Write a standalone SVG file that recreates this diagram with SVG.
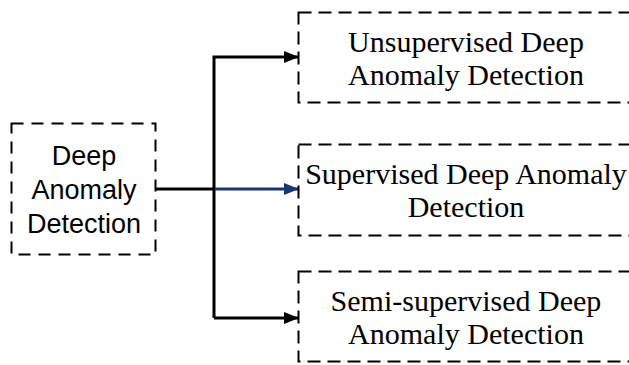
<svg xmlns="http://www.w3.org/2000/svg" width="629" height="365" viewBox="0 0 629 365">
<defs>
<style>
.box{fill:none;stroke:#000;stroke-width:2;stroke-dasharray:13,7}
.sbox{fill:none;stroke:#000;stroke-width:2;stroke-dasharray:12,8}
.line{fill:none;stroke:#000;stroke-width:3}
.sans{font-family:"Liberation Sans",Arial,sans-serif;font-size:27px;fill:#000;text-anchor:middle}
.serif{font-family:"Liberation Serif","Times New Roman",serif;font-size:30px;fill:#000;text-anchor:middle}
</style>
<marker id="ah" markerWidth="15" markerHeight="12" refX="14" refY="6" orient="auto" markerUnits="userSpaceOnUse">
<path d="M0,0 L15,6 L0,12 Z" fill="#000"/>
</marker>
<marker id="ahb" markerWidth="15" markerHeight="12" refX="14" refY="6" orient="auto" markerUnits="userSpaceOnUse">
<path d="M0,0 L15,6 L0,12 Z" fill="#1c3570"/>
</marker>
</defs>
<rect width="629" height="365" fill="#fff"/>
<g id="connectors">
<path class="line" d="M155,189 H214"/>
<path class="line" d="M214,318 V57 H298" marker-end="url(#ah)"/>
<path class="line" d="M214,318 H298" marker-end="url(#ah)"/>
<path d="M215,189 H298" fill="none" stroke="#1c3570" stroke-width="3" marker-end="url(#ahb)"/>
</g>
<g id="root">
<rect class="sbox" x="11.5" y="123.5" width="144" height="131"/>
<text class="sans" x="84" y="165">Deep</text>
<text class="sans" x="84" y="199">Anomaly</text>
<text class="sans" x="84" y="233">Detection</text>
</g>
<g id="unsupervised">
<rect class="box" x="298.5" y="12.5" width="336" height="90"/>
<text class="serif" x="466" y="52">Unsupervised Deep</text>
<text class="serif" x="466" y="85">Anomaly Detection</text>
</g>
<g id="supervised">
<rect class="box" x="298.5" y="144.5" width="336" height="91"/>
<text class="serif" x="466" y="184">Supervised Deep Anomaly</text>
<text class="serif" x="466" y="217">Detection</text>
</g>
<g id="semisupervised">
<rect class="box" x="298.5" y="271.5" width="336" height="90"/>
<text class="serif" x="466" y="311">Semi-supervised Deep</text>
<text class="serif" x="466" y="344">Anomaly Detection</text>
</g>
</svg>
